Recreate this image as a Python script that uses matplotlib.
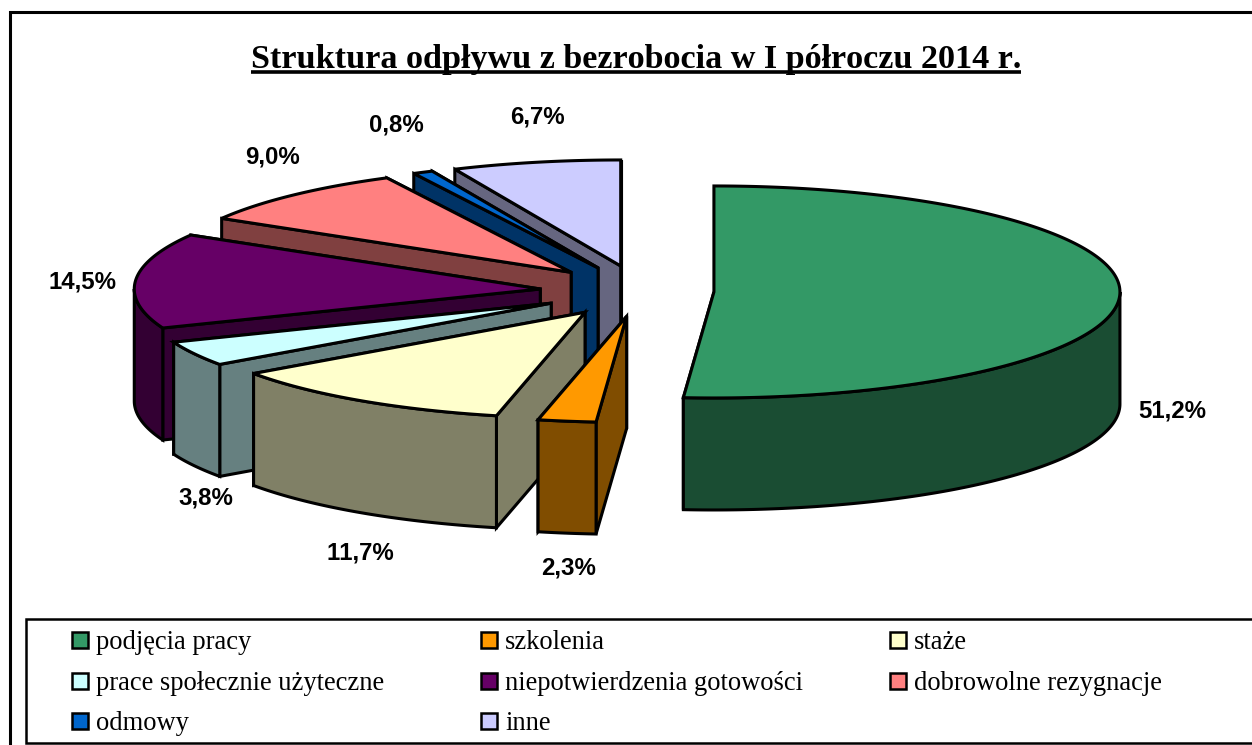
import numpy as np
import matplotlib
matplotlib.use("Agg")
import matplotlib.pyplot as plt
from matplotlib.patches import Polygon, Rectangle

plt.rcParams["text.kerning_factor"] = 6

title = "Struktura odpływu z bezrobocia w I półroczu 2014 r."
categories = ["podjęcia pracy", "szkolenia", "staże", "prace społecznie użyteczne",
              "niepotwierdzenia gotowości", "dobrowolne rezygnacje", "odmowy", "inne"]
values = [51.2, 2.3, 11.7, 3.8, 14.5, 9.0, 0.8, 6.7]
colors = ["#339966", "#FF9900", "#FFFFCC", "#CCFFFF", "#660066", "#FF8080", "#0066CC", "#CCCCFF"]

# label centres, one per slice
label_pos = [(1172, 411), (569, 568), (360, 553), (206, 498), (83, 282), (273, 157), (396, 125), (537, 117)]

# pie geometry in pixels
rx = 406
ry = 106
depth = 112
cx = 627
cy = 291
lw = 2.2

fig = plt.figure(figsize=(12.52, 7.45), dpi=100)
ax = fig.add_axes([0, 0, 1, 1])
ax.set_xlim(0, 1252)
ax.set_ylim(745, 0)
ax.axis("off")


def side_color(c):
    return tuple(v * 0.5 for v in matplotlib.colors.to_rgb(c))


def arc(x0, y0, a0, a1):
    t = np.radians(np.linspace(a0, a1, max(int(abs(a1 - a0) * 2), 2)))
    return np.column_stack([x0 + rx * np.sin(t), y0 - ry * np.cos(t)])


def face(pts, color, z):
    ax.add_patch(Polygon(pts, closed=True, facecolor=color, edgecolor="black",
                         linewidth=lw, joinstyle="miter", zorder=z))


ax.add_patch(Rectangle((10, 12), 1400, 900, facecolor="white", edgecolor="black", linewidth=2.2, zorder=0))

# slice angles clockwise from 12 o'clock
ends = np.cumsum(values) / np.sum(values) * 360
starts = ends - np.array(values) / np.sum(values) * 360

# back slices first, so the front ones cover them
z = 1
for i in range(len(values) - 1, -1, -1):
    a0, a1 = starts[i], ends[i]
    mid = np.radians((a0 + a1) / 2)
    x0 = cx + 87 * np.sin(mid) + 13 * np.cos(mid) ** 4
    y0 = cy - 25.6 * np.cos(mid)
    dark = side_color(colors[i])
    down = np.array([0, depth])
    apex = np.array([x0, y0])

    # cut faces, the far one before the near one
    for a in (a1, a0):
        p = arc(x0, y0, a, a)[0]
        face([apex, p, p + down, apex + down], dark, z)
        z += 1

    # outer rim, only the part facing the viewer
    r0, r1 = max(a0, 90), min(a1, 270)
    if r1 > r0:
        top = arc(x0, y0, r0, r1)
        face(np.vstack([top, (top + down)[::-1]]), dark, z)
        z += 1

    face(np.vstack([apex, arc(x0, y0, a0, a1)]), colors[i], z)
    z += 1

t = ax.text(636, 68, title, family="Liberation Serif", fontweight="bold", fontsize=24.6,
            ha="center", va="baseline", zorder=50)
fig.canvas.draw()
bb = t.get_window_extent()
ax.plot([bb.x0, bb.x1], [72, 72], color="black", linewidth=2.6, solid_capstyle="butt", zorder=50)

for v, (x, y) in zip(values, label_pos):
    ax.text(x, y, f"{v:.1f}%".replace(".", ","), family="Liberation Sans", fontweight="bold",
            fontsize=17.3, ha="center", va="center", zorder=50)

# legend box runs off the right edge like in the source
ax.add_patch(Rectangle((26, 619), 1400, 124, facecolor="white", edgecolor="black", linewidth=1.8, zorder=60))
key_x = [72, 481, 890]
row_y = [640, 681, 721]
for i, name in enumerate(categories):
    col = i % 3
    row = i // 3
    ax.add_patch(Rectangle((key_x[col], row_y[row] - 8), 16, 16, facecolor=colors[i], edgecolor="black",
                           linewidth=1.8, zorder=61))
    ax.text(key_x[col] + 24, row_y[row] + 9, name, family="Liberation Serif", fontsize=19.1,
            ha="left", va="baseline", zorder=61)

fig.savefig("out.png", dpi=100)
